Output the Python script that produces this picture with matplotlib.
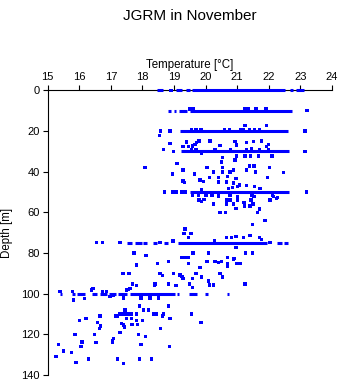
from matplotlib import pyplot as plt

# dense rows of samples at the standard depths (depth, from, to)
run_depth = [0, 0, 0, 0, 0, 0,
             10, 10, 10, 10,
             20, 30, 50,
             75, 75, 75, 75, 75, 75, 75, 75,
             100, 100, 100, 100, 100, 100, 100, 100, 100, 100, 100, 100]
run_tmin = [18.45, 19.07, 19.37, 19.56, 22.68, 22.86,
            18.82, 19.01, 19.17, 19.51,
            19.19, 19.21, 19.51,
            19.14, 17.50, 17.77, 18.03, 18.35, 18.69, 22.26, 22.49,
            15.39, 15.76, 15.92, 16.41, 16.66, 16.95, 17.24, 17.60, 19.08, 19.49, 19.98, 20.67]
run_tmax = [18.64, 19.25, 19.50, 22.52, 22.76, 23.12,
            18.90, 19.07, 19.40, 22.73,
            22.62, 22.65, 22.65,
            21.94, 17.66, 17.98, 18.16, 18.47, 18.82, 22.41, 22.62,
            15.44, 15.86, 16.18, 16.55, 16.87, 17.16, 17.50, 19.03, 19.17, 19.74, 20.09, 20.75]

# scattered samples, 0-30 m
t_upper = [18.90, 23.22, 18.57, 18.88, 23.15, 18.98, 23.15,
           19.51, 19.60, 21.25, 21.35, 21.60, 21.92,
           19.55, 19.70, 19.85, 20.60, 20.75, 21.10, 21.20, 21.40, 21.55, 21.70,
           21.25, 21.94, 18.54,
           18.88, 18.66, 19.40, 19.28, 19.46, 19.59, 19.67, 19.72, 19.79, 19.56, 19.88,
           20.14, 20.46, 20.93, 20.99, 21.30, 21.52, 21.78, 21.99, 21.94,
           19.70, 20.30, 20.80, 21.30, 21.45, 21.70, 22.00]
d_upper = [0, 10, 20, 20, 20, 30, 30,
           9.3, 9.3, 9.3, 9.3, 9.3, 9.3,
           19.2, 19.2, 19.2, 19.2, 19.2, 19.2, 19.2, 19.2, 19.2, 19.2,
           17.2, 17.2, 22.3,
           26.1, 29.0, 25.4, 27.7, 27.7, 27.4, 26.6, 25.7, 24.9, 29.0, 31.0,
           24.9, 27.2, 25.2, 26.9, 25.7, 25.2, 24.9, 26.6, 27.7,
           29.0, 29.1, 29.1, 29.0, 28.8, 29.0, 29.2]

# 30-50 m
t_mid = [20.54, 20.51, 20.93, 20.99, 21.25, 21.43, 21.67, 22.10, 21.39, 21.54,
         19.09, 18.08, 19.28, 18.95, 20.05, 20.54, 20.25, 20.54, 20.78, 20.88,
         21.30, 21.59, 22.02, 22.47, 19.65, 20.12, 20.41, 20.70, 20.97, 21.96,
         19.28, 19.33, 19.83, 19.93, 20.41, 20.67, 20.88, 21.07, 20.72, 20.86,
         21.01, 21.30, 21.55, 21.73, 19.88,
         18.69, 18.95, 19.07, 19.25, 19.35, 23.20]
d_mid = [33.1, 35.2, 34.3, 32.3, 32.3, 32.3, 32.3, 32.3, 37.2, 37.2,
         36.1, 38.0, 39.2, 41.1, 38.0, 38.0, 40.2, 40.2, 40.2, 39.2,
         39.2, 40.2, 38.0, 40.3, 41.1, 42.9, 42.9, 42.5, 43.3, 42.9,
         44.6, 45.4, 44.1, 44.9, 45.1, 45.1, 45.7, 46.6, 48.2, 47.7,
         47.4, 46.9, 47.4, 48.2, 49.0,
         50, 50, 50, 50, 50, 50]

# 50-75 m
t_low = [19.59, 19.77, 20.02, 20.20, 20.78, 21.01, 21.47, 21.54, 22.13, 22.28,
         19.79, 19.88, 19.95, 20.25, 20.41, 20.67, 20.67, 20.78, 20.88, 21.01,
         21.22, 21.23, 21.41, 21.44, 21.50, 20.96, 21.65, 21.70, 20.46, 20.64,
         21.48, 21.88, 22.04, 22.15, 22.25,
         19.35, 19.32, 19.54, 19.46, 18.97, 20.67, 20.83, 20.97, 21.20, 21.41,
         21.71, 21.78, 20.28,
         16.55, 16.74, 17.29, 18.56, 18.98, 22.04]
d_low = [51.8, 51.8, 51.8, 51.8, 51.8, 52.3, 51.8, 52.3, 51.8, 52.8,
         54.0, 54.8, 53.6, 55.9, 52.0, 54.0, 55.9, 54.0, 55.9, 54.0,
         55.2, 56.9, 56.9, 54.0, 55.9, 58.0, 60.0, 58.4, 60.0, 60.0,
         65.9, 64.1, 54.0, 52.3, 53.1,
         68.2, 70.3, 70.3, 72.3, 74.1, 72.5, 72.5, 72.0, 72.5, 71.5,
         72.3, 73.3, 74.0,
         75, 75, 75, 75, 74.5, 75]

# 75-100 m
t_deep = [20.97, 17.73, 18.11, 19.25, 19.36, 19.44, 19.59, 20.09, 20.69, 20.90,
          21.26, 21.48, 19.61, 18.47, 18.82, 19.46, 20.04, 20.30, 20.41, 20.51,
          20.69, 20.69, 20.88, 20.99, 21.09, 19.83, 17.82, 17.38, 17.57, 18.56,
          18.63, 18.98, 19.19, 19.25, 19.28, 19.59, 19.70, 19.88, 20.09, 20.46,
          20.54, 17.68, 18.40, 18.82, 19.49, 20.12, 20.25, 21.25, 19.06, 18.38,
          17.82, 17.56, 16.43, 16.39, 19.59]
d_deep = [77.2, 80.1, 81.1, 82.1, 82.1, 82.1, 80.1, 80.1, 82.1, 82.6,
          80.1, 80.1, 80.1, 85.1, 84.1, 85.1, 84.1, 84.1, 84.8, 84.1,
          86.4, 85.4, 83.3, 85.1, 85.1, 87.0, 86.0, 90.0, 90.0, 90.0,
          91.0, 90.0, 90.8, 91.6, 92.6, 92.6, 90.0, 91.9, 93.7, 90.0,
          91.9, 95.2, 95.2, 95.2, 95.2, 95.7, 95.7, 95.2, 96.1, 96.1,
          96.1, 97.9, 97.5, 98.2, 97.0]

# 100-135 m
t_bottom = [15.39, 15.78, 15.81, 16.16, 16.74, 16.87, 16.97, 17.08, 17.40, 17.50,
            17.61, 17.96, 18.24, 18.51, 17.90, 18.82, 18.03, 18.19, 17.45, 17.29,
            17.19, 17.56, 17.66, 17.82, 18.35, 18.45, 18.66, 18.63, 19.56, 17.50,
            17.66, 18.88, 16.66, 16.21, 16.00, 17.82, 18.01, 19.86, 16.58, 16.67,
            16.64, 17.34, 17.40, 17.67, 17.84, 17.43, 18.57, 17.29, 16.48, 15.86,
            17.87, 18.10, 17.08, 17.05, 17.05, 16.09, 16.53, 17.96, 15.34, 16.06,
            18.85, 15.49, 15.75, 15.26, 16.29, 17.21, 17.90, 18.29, 15.90, 17.40,
            17.15, 17.40, 17.50]
d_bottom = [99.0, 99.0, 103.1, 102.3, 99.0, 99.0, 101.5, 100.7, 102.1, 98.2,
            97.5, 102.1, 102.1, 102.1, 106.1, 106.1, 108.1, 108.1, 108.1, 110.0,
            111.0, 110.0, 110.0, 110.0, 110.0, 110.0, 110.0, 111.0, 110.0, 112.1,
            112.1, 112.1, 111.0, 112.1, 113.1, 113.2, 113.2, 114.1, 114.1, 116.0,
            117.0, 114.6, 115.4, 115.1, 115.1, 116.4, 117.0, 119.0, 120.0, 120.0,
            120.0, 121.0, 122.0, 123.0, 123.9, 123.7, 123.9, 125.0, 124.9, 126.1,
            126.1, 128.2, 129.0, 131.0, 132.1, 132.1, 132.1, 132.1, 133.9, 134.2,
            111.0, 110.0, 110.0]

plt.rcParams['font.family'] = ['Liberation Sans', 'DejaVu Sans']

fig = plt.figure(figsize=(3.41, 3.84), dpi=100)
ax = fig.add_axes([0.140, 0.0234, 0.833, 0.7416])

ax.hlines(run_depth, run_tmin, run_tmax, colors='blue', linewidth=2.2,
          zorder=3, clip_on=False)
for t, d in [(t_upper, d_upper), (t_mid, d_mid), (t_low, d_low),
             (t_deep, d_deep), (t_bottom, d_bottom)]:
    ax.scatter(t, d, s=6, marker='s', c='blue', edgecolors='none',
               zorder=3, clip_on=False)

ax.set_xlim(15, 24)
ax.set_ylim(140, 0)
ax.set_xticks(range(15, 25))
ax.set_yticks(range(0, 141, 20))
ax.xaxis.tick_top()
ax.xaxis.set_label_position('top')
ax.spines['right'].set_visible(False)
ax.spines['bottom'].set_visible(False)
for s in ['top', 'left']:
    ax.spines[s].set_linewidth(0.8)
ax.tick_params(direction='out', length=3.6, width=0.8, labelsize=8, pad=2)
ax.set_xlabel('Temperature [°C]', fontsize=8.3, labelpad=3)
ax.set_ylabel('Depth [m]', fontsize=8.3, labelpad=6)
fig.text(0.556, 0.977, 'JGRM in November', ha='center', va='top', fontsize=11)

plt.savefig('out.png', dpi=100)
